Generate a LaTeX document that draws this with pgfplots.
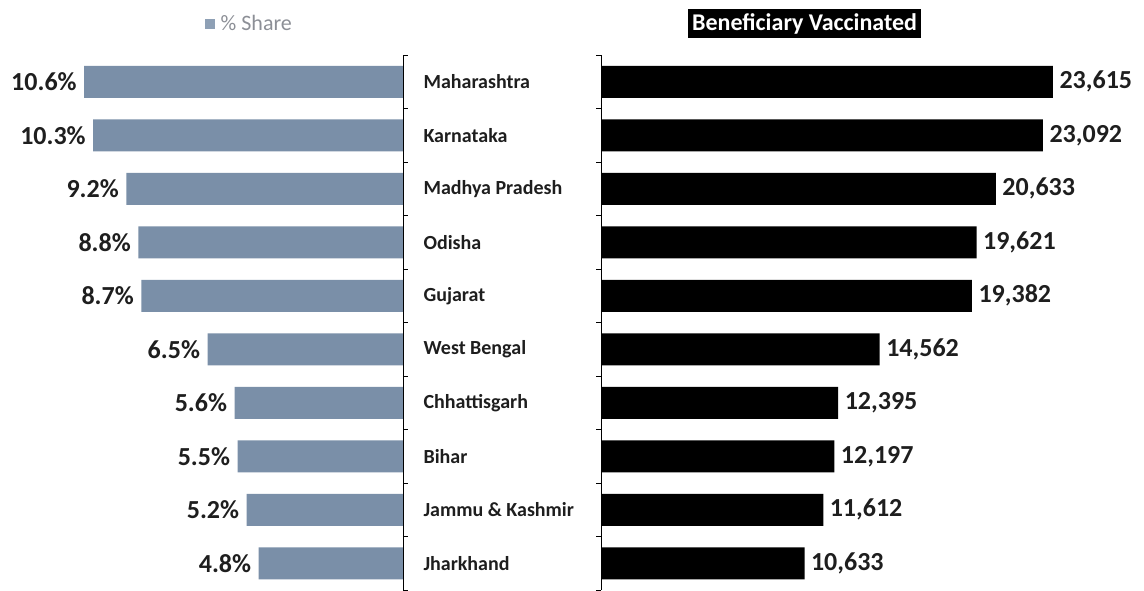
\documentclass[border=0pt]{standalone}
\usepackage{fontspec}
\setmainfont{Carlito}
\usepackage{pgfplots}
\pgfplotsset{compat=1.18}
\definecolor{sharebar}{HTML}{7A8FA8}
\definecolor{labtext}{HTML}{1E1E1E}
\definecolor{legtext}{HTML}{8C8F96}

\pgfplotstableread{
idx share vacc
0 10.6 23615
1 10.3 23092
2 9.2 20633
3 8.8 19621
4 8.7 19382
5 6.5 14562
6 5.6 12395
7 5.5 12197
8 5.2 11612
9 4.8 10633
}\statedata

\begin{document}
\begin{tikzpicture}
\useasboundingbox (0pt,0pt) rectangle (1144pt,590pt);
% left: share
\begin{axis}[
    at={(0pt,0pt)}, anchor=south west,
    scale only axis, width=403pt, height=535pt,
    xbar, bar width=32pt,
    x dir=reverse, xmin=0, xmax=13.4,
    y dir=reverse, ymin=-0.5, ymax=9.5,
    axis x line=none, axis y line*=right,
    ytick={0,...,9}, yticklabels={}, major tick length=0pt,
    minor ytick={-0.5,0.5,...,9.5},
    minor tick length=5pt, tick align=outside,
    tick style={black, line width=0.8pt},
    axis line style={black, line width=0.8pt, -},
    /pgf/number format/assume math mode=true,
    nodes near coords={\pgfmathprintnumber[fixed,precision=1,fixed zerofill]{\pgfplotspointmeta}\%},
    every node near coord/.append style={anchor=east, xshift=-4pt,
        font=\fontsize{26}{30}\selectfont\bfseries, text=labtext},
    legend style={draw=none, fill=none, at={(0.5,1.035)}, anchor=south west,
        font=\fontsize{22}{26}\selectfont, text=legtext},
    legend image code/.code={\fill[sharebar!85] (0pt,-5pt) rectangle (10pt,5pt);},
    legend cell align=left,
]
\addplot[fill=sharebar, draw=none] table[x=share, y=idx] {\statedata};
\legend{\hspace{4pt}\% Share}
\end{axis}
% right: vaccinated
\begin{axis}[
    at={(601pt,0pt)}, anchor=south west,
    scale only axis, width=543pt, height=535pt,
    xbar, bar width=32pt,
    xmin=0, xmax=28370,
    y dir=reverse, ymin=-0.5, ymax=9.5,
    axis x line=none, axis y line*=left,
    ytick={0,...,9}, major tick length=0pt,
    minor ytick={-0.5,0.5,...,9.5},
    minor tick length=5pt, tick align=outside,
    tick style={black, line width=0.8pt},
    axis line style={black, line width=0.8pt, -},
    yticklabels={Maharashtra, Karnataka, Madhya Pradesh, Odisha, Gujarat,
        West Bengal, Chhattisgarh, Bihar, Jammu \& Kashmir, Jharkhand},
    yticklabel style={anchor=west, xshift=-181pt,
        font=\fontsize{20}{24}\selectfont\bfseries, text=labtext},
    /pgf/number format/assume math mode=true,
    nodes near coords={\pgfmathprintnumber[fixed,precision=0,1000 sep={,}]{\pgfplotspointmeta}},
    every node near coord/.append style={anchor=west, xshift=3pt,
        font=\fontsize{26}{30}\selectfont\bfseries, text=labtext},
    title={Beneficiary Vaccinated},
    title style={at={(0.16,1.02)}, anchor=south west, fill=black, text=white,
        inner xsep=4pt, inner ysep=4pt, font=\fontsize{24}{28}\selectfont\bfseries},
]
\addplot[fill=black, draw=none] table[x=vacc, y=idx] {\statedata};
\end{axis}
\end{tikzpicture}
\end{document}
